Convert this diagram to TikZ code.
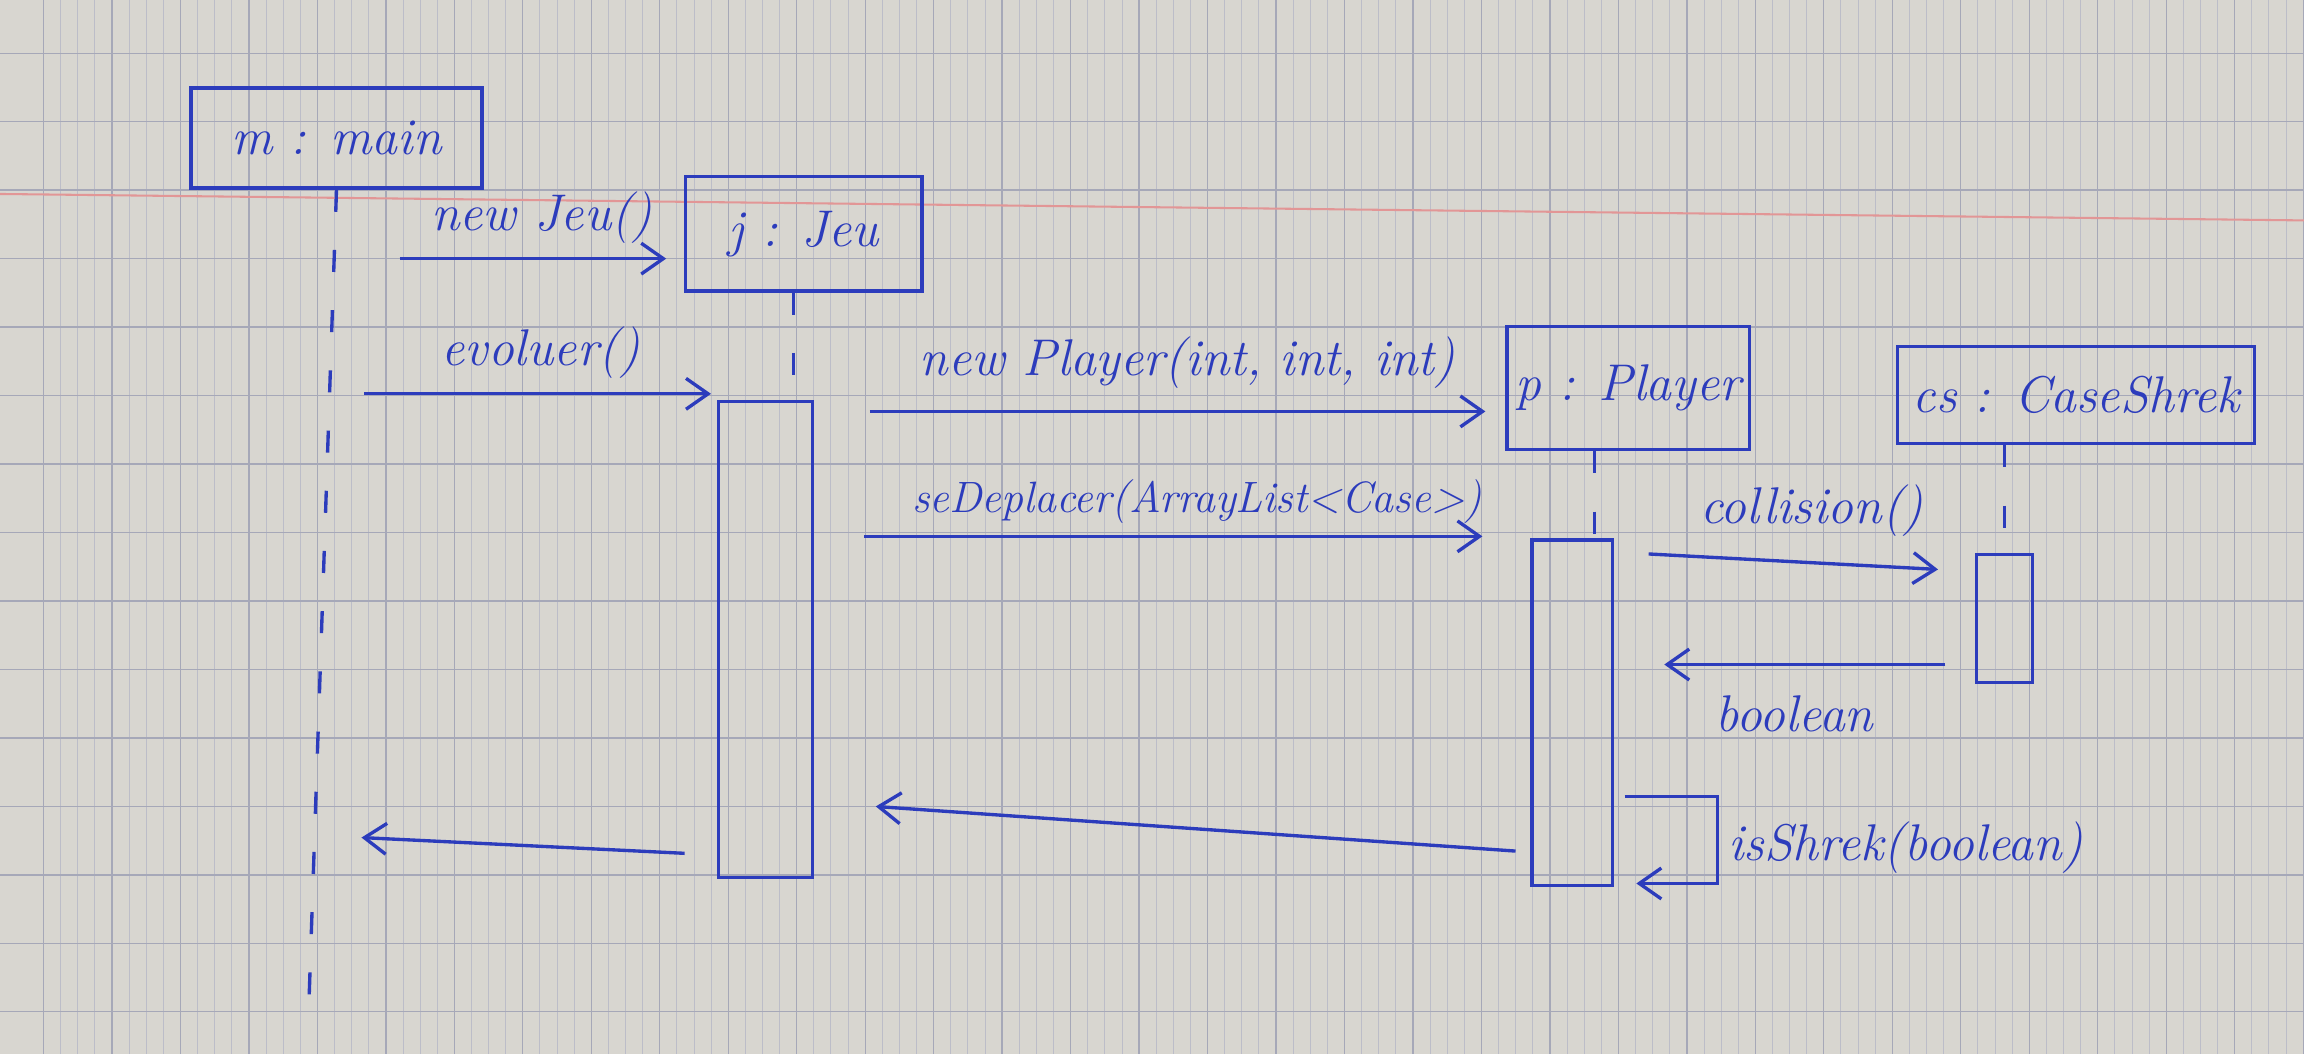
\documentclass[tikz,border=0pt]{standalone}
\usetikzlibrary{arrows.meta,calc}
\definecolor{ink}{RGB}{44,60,188}
\definecolor{paper}{RGB}{216,214,208}
\definecolor{gridc}{RGB}{188,189,200}
\definecolor{gridm}{RGB}{166,168,184}
\definecolor{marginc}{RGB}{226,150,150}
\begin{document}
\begin{tikzpicture}[x=0.02cm,y=-0.02cm,
  every node/.style={text=ink, font=\fontsize{20}{24}\selectfont\itshape},
  obj/.style={draw=ink, line width=1.3pt, rectangle, inner sep=0pt},
  actbar/.style={draw=ink, line width=1.3pt, rectangle, inner sep=0pt},
  life/.style={draw=ink, line width=1.3pt, dash pattern=on 0.3cm off 0.52cm},
  msg/.style={draw=ink, line width=1.3pt, -{Straight Barb[length=0.3cm,width=0.42cm]}}]
% paper
\fill[paper] (0,0) rectangle (1568,717);
\useasboundingbox (0,0) rectangle (1568,717);
\foreach \i in {0,...,134} \draw[gridc, line width=0.35pt] ({29.6+11.65*\i},0) -- ++(0,717);
\foreach \i in {0,...,33} \draw[gridm, line width=0.5pt] ({29.6+46.6*\i},0) -- ++(0,717);
\foreach \i in {0,...,15} \draw[gridm, line width=0.5pt] (0,{36.2+46.6*\i}) -- ++(1568,0);
\draw[marginc, line width=0.8pt] (0,132) -- (1568,150);
% objects
\node[obj, minimum width=3.96cm, minimum height=1.36cm] (m) at (229,94) {m : main};
\node[obj, minimum width=3.22cm, minimum height=1.56cm] (j) at (547,159) {j : Jeu};
\node[obj, minimum width=3.3cm, minimum height=1.68cm] (p) at (1108,264) {p : Player};
\node[obj, minimum width=4.86cm, minimum height=1.32cm] (cs) at (1413,269) {cs : CaseShrek};
% activation bars
\node[actbar, minimum width=1.28cm, minimum height=6.48cm] (ja) at (521,435) {};
\node[actbar, minimum width=1.1cm, minimum height=4.7cm] (pa) at (1070,485) {};
\node[actbar, minimum width=0.76cm, minimum height=1.74cm] (csa) at (1364,421) {};
% lifelines
\coordinate (mend) at (210,690);
\draw[life] (m.south) -- (mend);
\coordinate (jl) at ([xshift=-0.14cm]j.south);
\draw[life] (jl) -- (jl |- ja.north);
\coordinate (pl) at ([xshift=-0.46cm]p.south);
\draw[life] (pl) -- (pl |- pa.north);
\draw[life] (csa.north |- cs.south) -- (csa.north);
% messages
\coordinate (s1) at (272,176);
\draw[msg, shorten >=0.24cm] (s1) -- node[above=2pt] {new Jeu()} (s1 -| j.west);
\coordinate (s2) at (248,268);
\draw[msg, shorten >=0.08cm] (s2) -- node[above=2pt] {evoluer()} (s2 -| ja.west);
\coordinate (s3) at (592,280);
\draw[msg, shorten >=0.27cm] (s3) -- node[above=5pt] {new Player(int, int, int)} (s3 -| p.west);
\coordinate (s4) at (588,365);
\draw[msg, shorten >=0.65cm] (s4) -- node[above=1pt, font=\fontsize{17}{20}\selectfont\itshape] {seDeplacer(ArrayList<Case>)} (s4 -| pa.west);
\coordinate (s5) at (1122,377);
\coordinate (t5) at ($(csa.north west)!0.14!(csa.south west)$);
\draw[msg, shorten >=0.5cm] (s5) -- node[above=6pt] {collision()} (t5);
\coordinate (r1) at ($(csa.north west)!0.85!(csa.south west)$);
\draw[msg, shorten <=0.4cm, shorten >=0.68cm] (r1) -- node[below=8pt] {boolean} (r1 -| pa.east);
\coordinate (q1) at ($(pa.north east)!0.74!(pa.south east)$);
\coordinate (q2) at ($(pa.north east)!0.99!(pa.south east)$);
\draw[msg] ([xshift=0.14cm]q1) -- ++(63,0) |- ([xshift=0.3cm]q2);
\node[anchor=west] (lbl) at (1170,577) {isShrek(boolean)};
\coordinate (r2) at ($(pa.north west)!0.9!(pa.south west)$);
\coordinate (t2) at ($(ja.north east)!0.84!(ja.south east)$);
\draw[msg, shorten <=0.2cm, shorten >=0.84cm] (r2) -- (t2);
\coordinate (r3) at ($(ja.north west)!0.95!(ja.south west)$);
\coordinate (mret) at (246,570);
\draw[msg, shorten <=0.44cm] (r3) -- (mret);
\end{tikzpicture}
\end{document}
